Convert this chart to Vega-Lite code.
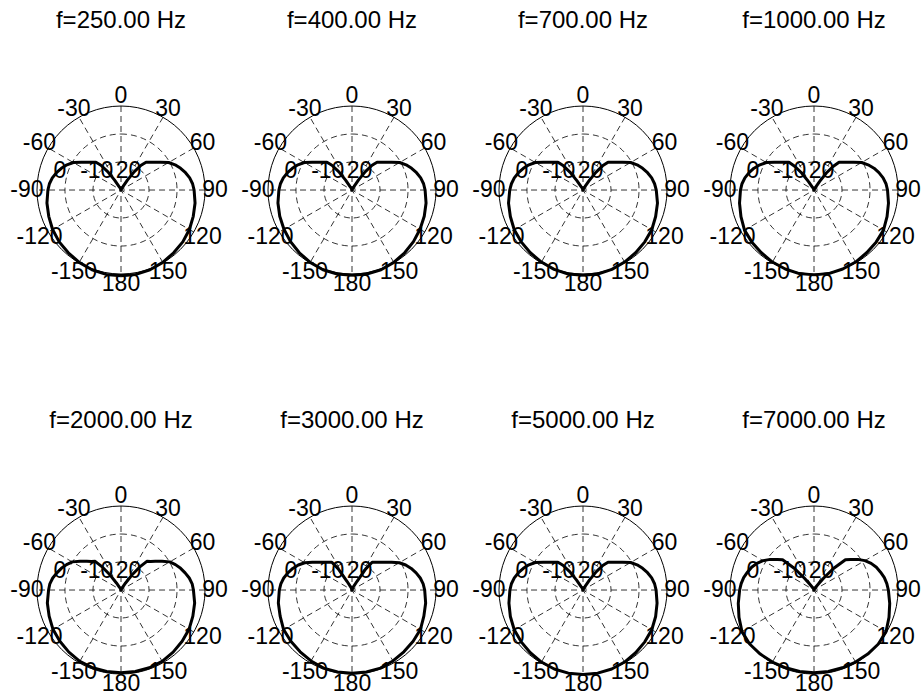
{
  "$schema": "https://vega.github.io/schema/vega-lite/v6.json",
  "padding": {"left": 10, "top": 0, "right": 0, "bottom": 0},
  "bounds": "flush",
  "background": "white",
  "config": {"view": {"stroke": null}, "text": {"font": "Liberation Sans"},
    "header": {"title": null, "labelExpr": "''", "labelFontSize": 0.1, "labelColor": "transparent", "labelPadding": 0, "titlePadding": 0},
    "headerFacet": {"title": null, "labelExpr": "''", "labelFontSize": 0.1, "labelColor": "transparent", "labelPadding": 0, "titlePadding": 0}},
  "data": {"values": [
    {"fs": ["f=250.00 Hz","f=400.00 Hz","f=700.00 Hz","f=1000.00 Hz","f=2000.00 Hz","f=3000.00 Hz","f=5000.00 Hz","f=7000.00 Hz"], "k": "ring", "r": [0.3333, 0.6667]},
    {"fs": ["f=250.00 Hz","f=400.00 Hz","f=700.00 Hz","f=1000.00 Hz","f=2000.00 Hz","f=3000.00 Hz","f=5000.00 Hz","f=7000.00 Hz"], "k": "rim", "r": [1]},
    {"fs": ["f=250.00 Hz","f=400.00 Hz","f=700.00 Hz","f=1000.00 Hz","f=2000.00 Hz","f=3000.00 Hz","f=5000.00 Hz","f=7000.00 Hz"], "k": "sp", "t": [0, 30, 60, 90, 120, 150]},
    {"fs": ["f=250.00 Hz","f=400.00 Hz","f=700.00 Hz","f=1000.00 Hz","f=2000.00 Hz","f=3000.00 Hz","f=5000.00 Hz","f=7000.00 Hz"], "k": "al", "t": [0, 30, 60, 90, 120, 150, 180, -150, -120, -90, -60, -30], "txt": ["0", "30", "60", "90", "120", "150", "180", "-150", "-120", "-90", "-60", "-30"]},
    {"fs": ["f=250.00 Hz","f=400.00 Hz","f=700.00 Hz","f=1000.00 Hz","f=2000.00 Hz","f=3000.00 Hz","f=5000.00 Hz","f=7000.00 Hz"], "k": "rl", "x": [-0.726, -0.288, 0.089], "y": [0.23, 0.23, 0.23], "txt": ["0", "-10", "20"]},
    {"fs": ["f=250.00 Hz","f=400.00 Hz","f=700.00 Hz","f=1000.00 Hz","f=2000.00 Hz","f=3000.00 Hz","f=5000.00 Hz","f=7000.00 Hz"], "k": "ti"},
    {"fs": ["f=250.00 Hz"], "k": "c",
     "t": [-180,-170,-160,-150,-140,-130,-120,-110,-100,-90,-85,-80,-75,-70,-65,-60,-55,-50,-46,-42,-39,-36,-33,-30,-20,-10,0,10,20,30,33,36,39,42,46,50,55,60,65,70,75,80,85,90,100,110,120,130,140,150,160,170,180],
     "r": [1.02,1.02,1.01,0.995,0.975,0.96,0.94,0.915,0.895,0.87,0.855,0.83,0.795,0.755,0.71,0.655,0.575,0.513,0.475,0.445,0.38,0.27,0.14,0.05,0.02,0.01,0,0.01,0.02,0.05,0.14,0.27,0.38,0.445,0.475,0.513,0.575,0.655,0.71,0.755,0.795,0.83,0.855,0.87,0.895,0.915,0.94,0.96,0.975,0.995,1.01,1.02,1.02]},
    {"fs": ["f=400.00 Hz"], "k": "c",
     "t": [-180,-170,-160,-150,-140,-130,-120,-110,-100,-90,-85,-80,-75,-70,-65,-60,-55,-50,-46,-42,-39,-36,-33,-30,-20,-10,0,10,20,30,33,36,39,42,46,50,55,60,65,70,75,80,85,90,100,110,120,130,140,150,160,170,180],
     "r": [1.015,1.015,1.01,0.995,0.975,0.955,0.935,0.915,0.895,0.87,0.855,0.83,0.795,0.755,0.71,0.655,0.575,0.513,0.475,0.445,0.38,0.27,0.14,0.05,0.02,0.01,0,0.01,0.02,0.05,0.14,0.27,0.38,0.445,0.475,0.513,0.575,0.655,0.71,0.755,0.795,0.83,0.855,0.87,0.895,0.915,0.935,0.955,0.975,0.995,1.01,1.015,1.015]},
    {"fs": ["f=700.00 Hz"], "k": "c",
     "t": [-180,-170,-160,-150,-140,-130,-120,-110,-100,-90,-85,-80,-75,-70,-65,-60,-55,-50,-46,-42,-39,-36,-33,-30,-20,-10,0,10,20,30,33,36,39,42,46,50,55,60,65,70,75,80,85,90,100,110,120,130,140,150,160,170,180],
     "r": [1.015,1.015,1.005,0.99,0.975,0.96,0.945,0.92,0.9,0.872,0.855,0.83,0.795,0.755,0.71,0.655,0.575,0.513,0.475,0.445,0.37,0.26,0.13,0.05,0.02,0.01,0,0.01,0.02,0.05,0.13,0.26,0.37,0.445,0.475,0.513,0.575,0.655,0.71,0.755,0.795,0.83,0.855,0.872,0.9,0.92,0.945,0.96,0.975,0.99,1.005,1.015,1.015]},
    {"fs": ["f=1000.00 Hz"], "k": "c",
     "t": [-180,-170,-160,-150,-140,-130,-120,-110,-100,-90,-85,-80,-75,-70,-65,-60,-55,-50,-46,-42,-39,-36,-33,-30,-20,-10,0,10,20,30,33,36,39,42,46,50,55,60,65,70,75,80,85,90,100,110,120,130,140,150,160,170,180],
     "r": [1.01,1.01,1.0,0.99,0.975,0.965,0.955,0.925,0.9,0.875,0.86,0.835,0.8,0.76,0.71,0.655,0.575,0.513,0.475,0.445,0.36,0.25,0.12,0.04,0.02,0.01,0,0.01,0.02,0.04,0.12,0.25,0.36,0.445,0.475,0.513,0.575,0.655,0.71,0.76,0.8,0.835,0.86,0.875,0.9,0.925,0.955,0.965,0.975,0.99,1.0,1.01,1.01]},
    {"fs": ["f=2000.00 Hz"], "k": "c",
     "t": [-180,-170,-160,-150,-140,-130,-120,-110,-100,-90,-85,-80,-75,-70,-65,-60,-55,-50,-46,-42,-39,-36,-33,-30,-20,-10,0,10,20,30,33,36,39,42,46,50,55,60,65,70,75,80,85,90,100,110,120,130,140,150,160,170,180],
     "r": [0.985,0.985,0.985,0.98,0.965,0.95,0.935,0.91,0.89,0.862,0.85,0.825,0.79,0.755,0.715,0.67,0.596,0.532,0.49,0.46,0.35,0.22,0.1,0.04,0.02,0.01,0,0.01,0.02,0.04,0.1,0.22,0.35,0.46,0.49,0.532,0.596,0.67,0.715,0.755,0.79,0.825,0.85,0.862,0.89,0.91,0.935,0.95,0.965,0.98,0.985,0.985,0.985]},
    {"fs": ["f=3000.00 Hz"], "k": "c",
     "t": [-180,-170,-160,-150,-140,-130,-120,-110,-100,-90,-85,-80,-75,-70,-65,-60,-55,-50,-46,-42,-39,-36,-33,-30,-20,-10,0,10,20,30,33,36,39,42,46,50,55,60,65,70,75,80,85,90,100,110,120,130,140,150,160,170,180],
     "r": [0.99,0.99,0.99,0.975,0.96,0.95,0.94,0.91,0.89,0.865,0.85,0.825,0.79,0.75,0.705,0.65,0.575,0.513,0.475,0.444,0.425,0.408,0.3,0.12,0.03,0.01,0,0.01,0.03,0.12,0.3,0.408,0.425,0.444,0.475,0.513,0.575,0.65,0.705,0.75,0.79,0.825,0.85,0.865,0.89,0.91,0.94,0.95,0.96,0.975,0.99,0.99,0.99]},
    {"fs": ["f=5000.00 Hz"], "k": "c",
     "t": [-180,-170,-160,-150,-140,-130,-120,-110,-100,-90,-85,-80,-75,-70,-65,-60,-55,-50,-46,-42,-39,-36,-33,-30,-20,-10,0,10,20,30,33,36,39,42,46,50,55,60,65,70,75,80,85,90,100,110,120,130,140,150,160,170,180],
     "r": [1.005,1.005,1.0,0.99,0.975,0.96,0.945,0.92,0.895,0.87,0.855,0.83,0.795,0.755,0.71,0.655,0.575,0.513,0.475,0.445,0.38,0.27,0.14,0.05,0.02,0.01,0,0.01,0.02,0.05,0.14,0.27,0.38,0.445,0.475,0.513,0.575,0.655,0.71,0.755,0.795,0.83,0.855,0.87,0.895,0.92,0.945,0.96,0.975,0.99,1.0,1.005,1.005]},
    {"fs": ["f=7000.00 Hz"], "k": "c",
     "t": [-180,-170,-160,-150,-140,-130,-120,-110,-100,-90,-85,-80,-75,-70,-65,-60,-55,-50,-46,-42,-39,-36,-33,-30,-20,-10,0,10,20,30,33,36,39,42,46,50,55,60,65,70,75,80,85,90,100,110,120,130,140,150,160,170,180],
     "r": [0.985,0.985,0.985,0.99,0.995,1.0,0.99,0.95,0.915,0.885,0.87,0.85,0.82,0.79,0.75,0.7,0.636,0.567,0.52,0.34,0.18,0.08,0.05,0.03,0.02,0.01,0,0.01,0.02,0.03,0.05,0.08,0.18,0.34,0.52,0.567,0.636,0.7,0.75,0.79,0.82,0.85,0.87,0.885,0.915,0.95,0.99,1.0,0.995,0.99,0.985,0.985,0.985]}
  ]},
  "transform": [{"flatten": ["fs"], "as": ["f"]}],
  "facet": {"field": "f", "type": "nominal", "title": null, "header": {"title": null, "labelExpr": "''", "labelFontSize": 0.1, "labelColor": "transparent", "labelPadding": 0, "titlePadding": 0},
    "sort": ["f=250.00 Hz","f=400.00 Hz","f=700.00 Hz","f=1000.00 Hz","f=2000.00 Hz","f=3000.00 Hz","f=5000.00 Hz","f=7000.00 Hz"]},
  "columns": 4,
  "spacing": {"row": 110, "column": 31},
  "spec": {
    "width": 200,
    "height": 290,
    "layer": [
      {
        "transform": [{"filter": "datum.k === 'ring'"}, {"flatten": ["r"]}],
        "mark": {"type": "arc", "theta": 0, "theta2": 6.2832, "filled": false, "stroke": "#000000", "strokeWidth": 0.8, "strokeDash": [6, 4]},
        "encoding": {
          "x": {"datum": 0, "type": "quantitative", "scale": {"domain": [-1.19, 1.19], "nice": false, "zero": false}, "axis": null},
          "y": {"datum": 0, "type": "quantitative", "scale": {"domain": [-1.202, 2.25], "nice": false, "zero": false}, "axis": null},
          "radius": {"field": "r", "type": "quantitative", "stack": null, "scale": {"type": "linear", "domain": [0, 1], "range": [0, 84], "zero": true}, "legend": null}
        }
      },
      {
        "transform": [{"filter": "datum.k === 'rim'"}, {"flatten": ["r"]}],
        "mark": {"type": "arc", "theta": 0, "theta2": 6.2832, "filled": false, "stroke": "#000000", "strokeWidth": 1},
        "encoding": {
          "x": {"datum": 0, "type": "quantitative"},
          "y": {"datum": 0, "type": "quantitative"},
          "radius": {"field": "r", "type": "quantitative", "stack": null}
        }
      },
      {
        "transform": [{"filter": "datum.k === 'sp'"}, {"flatten": ["t"]},
          {"calculate": "sin(datum.t * PI / 180)", "as": "x"},
          {"calculate": "cos(datum.t * PI / 180)", "as": "y"},
          {"calculate": "-datum.x", "as": "x2"},
          {"calculate": "-datum.y", "as": "y2"}],
        "mark": {"type": "rule", "stroke": "#000000", "strokeWidth": 0.8, "strokeDash": [6, 4]},
        "encoding": {
          "x": {"field": "x", "type": "quantitative"},
          "y": {"field": "y", "type": "quantitative"},
          "x2": {"field": "x2"},
          "y2": {"field": "y2"}
        }
      },
      {
        "transform": [{"filter": "datum.k === 'c'"}, {"flatten": ["t", "r"]},
          {"calculate": "datum.r * sin(datum.t * PI / 180)", "as": "x"},
          {"calculate": "datum.r * cos(datum.t * PI / 180)", "as": "y"}],
        "mark": {"type": "line", "stroke": "#000000", "strokeWidth": 3, "strokeJoin": "round"},
        "encoding": {
          "x": {"field": "x", "type": "quantitative"},
          "y": {"field": "y", "type": "quantitative"},
          "order": {"field": "t", "type": "quantitative"}
        }
      },
      {
        "transform": [{"filter": "datum.k === 'al'"}, {"flatten": ["t", "txt"]},
          {"calculate": "1.12 * sin(datum.t * PI / 180)", "as": "x"},
          {"calculate": "1.12 * cos(datum.t * PI / 180)", "as": "y"}],
        "mark": {"type": "text", "fontSize": 23, "align": "center", "baseline": "middle", "color": "#000000"},
        "encoding": {
          "x": {"field": "x", "type": "quantitative"},
          "y": {"field": "y", "type": "quantitative"},
          "text": {"field": "txt"}
        }
      },
      {
        "transform": [{"filter": "datum.k === 'rl'"}, {"flatten": ["x", "y", "txt"]}],
        "mark": {"type": "text", "fontSize": 23, "align": "center", "baseline": "middle", "color": "#000000"},
        "encoding": {
          "x": {"field": "x", "type": "quantitative"},
          "y": {"field": "y", "type": "quantitative"},
          "text": {"field": "txt"}
        }
      },
      {
        "transform": [{"filter": "datum.k === 'ti'"}],
        "mark": {"type": "text", "fontSize": 24, "align": "center", "baseline": "middle", "color": "#000000"},
        "encoding": {
          "x": {"datum": 0, "type": "quantitative"},
          "y": {"datum": 2.012, "type": "quantitative"},
          "text": {"field": "f"}
        }
      }
    ]
  }
}
